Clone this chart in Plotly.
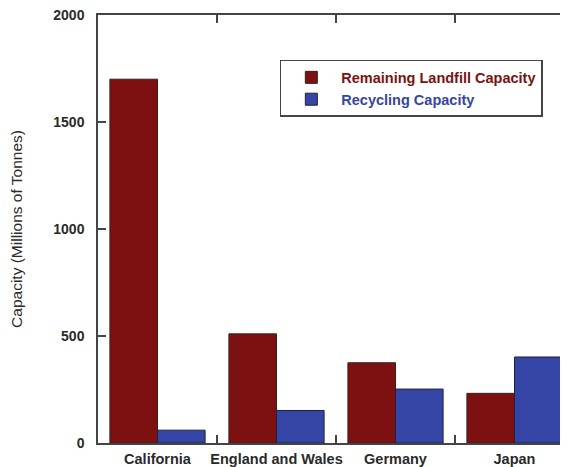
import plotly.graph_objects as go

categories = ["California", "England and Wales", "Germany", "Japan"]
landfill = [1700, 510, 375, 232]
recycling = [60, 152, 252, 402]
yticks = [0, 500, 1000, 1500, 2000]

RED = "#7d1111"
BLUE = "#3545a5"
AX = "#444444"
FONT = "Liberation Sans, Arial, sans-serif"

fig = go.Figure()
fig.add_trace(go.Bar(
    x=categories, y=landfill,
    name=f"<span style='color:{RED}'>Remaining Landfill Capacity</span>",
    marker=dict(color=RED, line=dict(color="#3a2020", width=1)),
))
fig.add_trace(go.Bar(
    x=categories, y=recycling,
    name=f"<span style='color:{BLUE}'>Recycling Capacity</span>",
    marker=dict(color=BLUE, line=dict(color="#202040", width=1)),
))

fig.update_layout(
    width=566, height=459,
    margin=dict(l=90, r=0, t=7, b=24, autoexpand=False),
    paper_bgcolor="white", plot_bgcolor="white",
    barmode="group", bargap=0.2, bargroupgap=0,
    font=dict(family=FONT, color="#333333", size=13),
    showlegend=True,
    legend=dict(
        x=0.382, y=0.895, xanchor="left", yanchor="top",
        bgcolor="white", bordercolor=AX, borderwidth=1.5,
        font=dict(size=14.5, family=FONT, weight="bold"),
        itemwidth=50, tracegroupgap=0,
        traceorder="normal",
    ),
    xaxis=dict(
        type="category", range=[-0.5, 3.5], automargin=False,
        showline=True, linecolor=AX, linewidth=1.5, mirror="ticks",
        ticks="inside", ticklen=8, tickcolor=AX, tickwidth=1.5,
        tickson="boundaries", showgrid=False, tickangle=0,
        tickfont=dict(size=14.5, color="#2a2a2a", weight="bold"),
        ticklabelstandoff=2,
    ),
    yaxis=dict(
        range=[0, 2000], tickvals=yticks, automargin=False,
        showline=True, linecolor=AX, linewidth=1.5, mirror="ticks",
        ticks="inside", ticklen=8, tickcolor=AX, tickwidth=1.5,
        showgrid=False, zeroline=False,
        tickfont=dict(size=14, color="#2a2a2a", weight="bold"),
        ticklabelstandoff=9, ticklabeloverflow="allow",
        title=dict(text="Capacity (Millions of Tonnes)", font=dict(size=15.5, color="#2a2a2a"), standoff=28),
    ),
)

fig.write_html("out.html")
